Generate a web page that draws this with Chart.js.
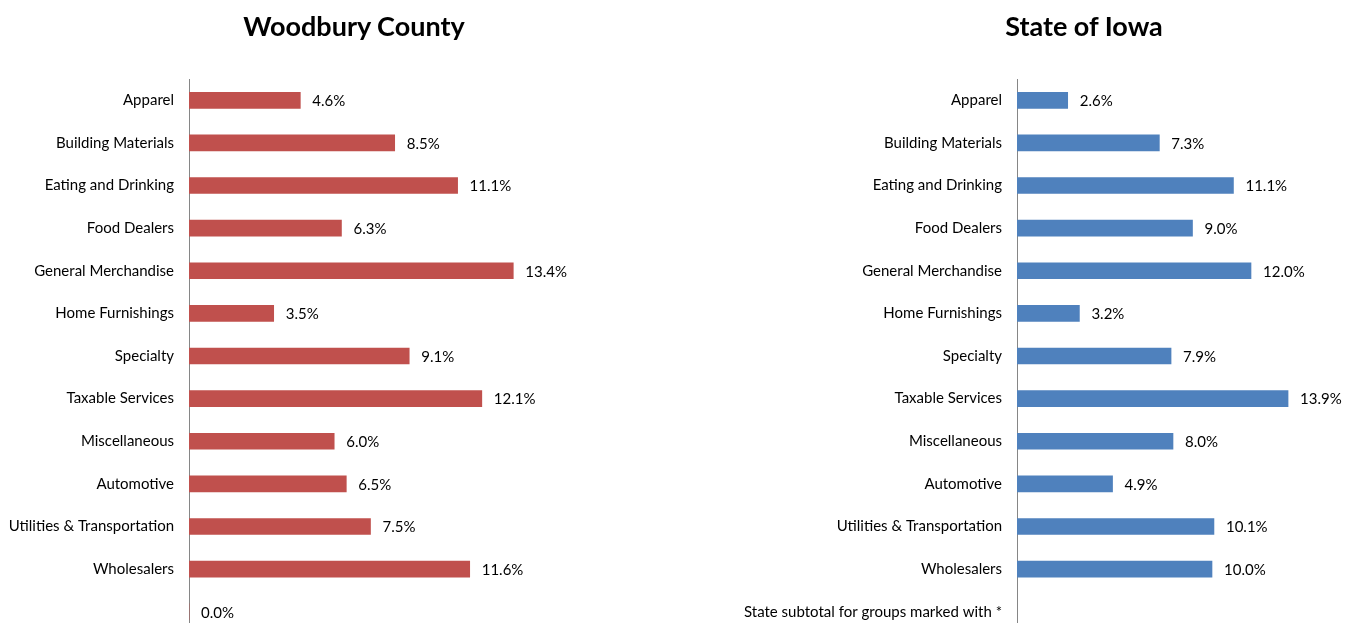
<!DOCTYPE html>
<html>
<head>
<meta charset="utf-8">
<script src="https://cdn.jsdelivr.net/npm/chart.js@4"></script>
<style>
  html, body { margin: 0; padding: 0; background: #fff; }
  #wrap { position: relative; width: 1351px; height: 623px; overflow: hidden; }
  .box { position: absolute; top: 0; }
  canvas { display: block; }
  .title { position: absolute; top: 8px; font-family: Lato, 'Open Sans', sans-serif; font-weight: bold; font-size: 27px; color: #000; white-space: nowrap; transform: translateX(-50%); line-height: 36px; }
</style>
</head>
<body>
<div id="wrap">
  <div class="box" style="left:0px;"><canvas id="c1" width="673" height="657"></canvas></div>
  <div class="box" style="left:676px;"><canvas id="c2" width="675" height="657"></canvas></div>
  <div class="title" id="t1" style="left:354px;"></div>
  <div class="title" id="t2" style="left:1084px;"></div>
</div>
<script>
const countyTitle = "Woodbury County";
const stateTitle = "State of Iowa";

const countyCategories = ["Apparel","Building Materials","Eating and Drinking","Food Dealers","General Merchandise","Home Furnishings","Specialty","Taxable Services","Miscellaneous","Automotive","Utilities & Transportation","Wholesalers",""];
const countyValues = [4.6, 8.5, 11.1, 6.3, 13.4, 3.5, 9.1, 12.1, 6.0, 6.5, 7.5, 11.6, 0.0];

const stateCategories = ["Apparel","Building Materials","Eating and Drinking","Food Dealers","General Merchandise","Home Furnishings","Specialty","Taxable Services","Miscellaneous","Automotive","Utilities & Transportation","Wholesalers","State subtotal for groups marked with *"];
const stateValues = [2.6, 7.3, 11.1, 9.0, 12.0, 3.2, 7.9, 13.9, 8.0, 4.9, 10.1, 10.0, null];

const FONT = "Lato, 'Open Sans', sans-serif";

document.getElementById('t1').textContent = countyTitle;
document.getElementById('t2').textContent = stateTitle;

const valueLabels = {
  id: 'valueLabels',
  afterDatasetsDraw(chart) {
    const ctx = chart.ctx;
    const meta = chart.getDatasetMeta(0);
    const data = chart.data.datasets[0].data;
    ctx.save();
    ctx.font = "15px " + FONT;
    ctx.fillStyle = "#000";
    ctx.textAlign = "left";
    ctx.textBaseline = "middle";
    meta.data.forEach((el, i) => {
      if (data[i] === null || data[i] === undefined) return;
      ctx.fillText(data[i].toFixed(1) + "%", el.x + 12, el.y + 1);
    });
    ctx.restore();
  }
};

function makeChart(id, cats, vals, color, xmax, pad, axisWidth) {
  return new Chart(document.getElementById(id), {
    type: 'bar',
    data: {
      labels: cats,
      datasets: [{ data: vals, backgroundColor: color, borderWidth: 0, barThickness: 16 }]
    },
    options: {
      indexAxis: 'y',
      responsive: false,
      animation: false,
      layout: { padding: pad },
      plugins: {
        legend: { display: false },
        tooltip: { enabled: false },
        title: { display: false }
      },
      scales: {
        x: { display: false, min: 0, max: xmax },
        y: {
          grid: { display: false, drawTicks: false },
          border: { display: true, color: "#868686", width: 1 },
          ticks: { color: "#000", font: { family: FONT, size: 15 }, padding: 15, autoSkip: false },
          afterFit(scale) { scale.width = axisWidth; }
        }
      }
    },
    plugins: [valueLabels]
  });
}

makeChart('c1', countyCategories, countyValues, '#C0504D', 20,
  { left: 0, right: 0, top: 79, bottom: 0 }, 189);
makeChart('c2', stateCategories, stateValues, '#4F81BD', 16,
  { left: 0, right: 22, top: 79, bottom: 0 }, 341);
</script>
</body>
</html>
